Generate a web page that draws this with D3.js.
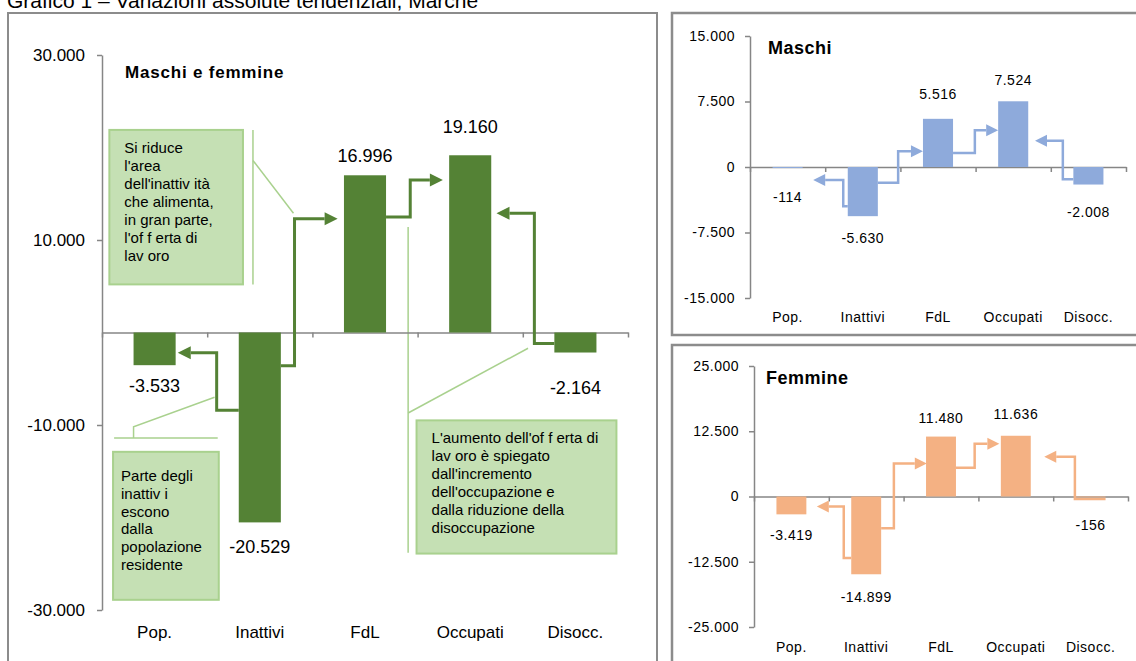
<!DOCTYPE html>
<html>
<head>
<meta charset="utf-8">
<script src="https://cdn.jsdelivr.net/npm/d3@7/dist/d3.min.js"></script>
<style>
body { margin: 0; background: #fff; }
svg { display: block; font-family: "Liberation Sans", Arial, sans-serif; }
.axis path, .axis line { stroke: #868686; stroke-width: 1.5; }
.axis text { fill: #000; }
.cat .domain { display: none; }
</style>
</head>
<body>
<div id="chart"></div>
<script>

var categories = ["Pop.", "Inattivi", "FdL", "Occupati", "Disocc."];
var valoriTotale = [-3533, -20529, 16996, 19160, -2164];
var valoriMaschi = [-114, -5630, 5516, 7524, -2008];
var valoriFemmine = [-3419, -14899, 11480, 11636, -156];

var tickTotale = [-30000, -10000, 10000, 30000];
var tickMaschi = [-15000, -7500, 0, 7500, 15000];
var tickFemmine = [-25000, -12500, 0, 12500, 25000];

// frecce: [posizione categoria, valore]
var frecceTotale = [
  [[0.8, -8400], [0.59, -8400], [0.59, -2200], [0.22, -2200]],
  [[1.2, -3600], [1.33, -3600], [1.33, 12300], [1.74, 12300]],
  [[2.2, 12500], [2.43, 12500], [2.43, 16500], [2.74, 16500]],
  [[3.8, -1200], [3.61, -1200], [3.61, 12900], [3.25, 12900]]
];
var frecceMaschi = [
  [[0.8, -4500], [0.74, -4500], [0.74, -1500], [0.34, -1500]],
  [[1.2, -1800], [1.47, -1800], [1.47, 1800], [1.80, 1800]],
  [[2.2, 1600], [2.49, 1600], [2.49, 4200], [2.80, 4200]],
  [[3.8, -1400], [3.66, -1400], [3.66, 3000], [3.29, 3000]]
];
var frecceFemmine = [
  [[0.8, -11800], [0.70, -11800], [0.70, -1900], [0.34, -1900]],
  [[1.2, -6100], [1.37, -6100], [1.37, 6300], [1.81, 6300]],
  [[2.2, 5500], [2.45, 5500], [2.45, 10100], [2.78, 10100]],
  [[4.2, -500], [3.79, -500], [3.79, 7600], [3.38, 7600]]
];

var nota1 = ["Si riduce", "l'area", "dell'inattiv ità", "che alimenta,", "in gran parte,", "l'of f erta di", "lav oro"];
var nota2 = ["Parte degli", "inattiv i", "escono", "dalla", "popolazione", "residente"];
var nota3 = ["L'aumento dell'of f erta di", "lav oro è spiegato", "dall'incremento", "dell'occupazione  e", "dalla riduzione  della", "disoccupazione"];

var width = 1136, height = 661;
var it = d3.formatLocale({decimal: ",", thousands: ".", grouping: [3], currency: ["", "€"], minus: "-"});
var fmt = it.format(",d");

var svg = d3.select("#chart").append("svg")
    .attr("width", width).attr("height", height);

svg.append("text")
    .attr("x", 7).attr("y", 8)
    .attr("font-size", 21)
    .text("Grafico 1 – Variazioni assolute tendenziali, Marche");

// cornici
svg.append("rect").attr("x", 8).attr("y", 13).attr("width", 649).attr("height", 700)
    .attr("fill", "none").attr("stroke", "#8c8c8c").attr("stroke-width", 2);
svg.append("rect").attr("x", 672).attr("y", 13).attr("width", 500).attr("height", 322)
    .attr("fill", "none").attr("stroke", "#8c8c8c").attr("stroke-width", 2.5);
svg.append("rect").attr("x", 672).attr("y", 345).attr("width", 500).attr("height", 400)
    .attr("fill", "none").attr("stroke", "#8c8c8c").attr("stroke-width", 2.5);

function drawPanel(o) {
    var g = svg.append("g");

    var x = d3.scaleBand().domain(categories)
        .range([o.left, o.right]).paddingInner(0.6).paddingOuter(0.3);
    var xi = d3.scaleLinear().domain([-0.5, categories.length - 0.5]).range([o.left, o.right]);
    var y = d3.scaleLinear().domain(o.domain).range([o.bottom, o.top]);

    // note (solo pannello principale)
    (o.notes || []).forEach(function(n) {
        g.append("rect")
            .attr("x", xi(n.box[0])).attr("y", y(n.box[2]))
            .attr("width", xi(n.box[1]) - xi(n.box[0]))
            .attr("height", y(n.box[3]) - y(n.box[2]))
            .attr("fill", "#c5e0b4").attr("stroke", "#a9d18e").attr("stroke-width", 2);
        n.lines.forEach(function(l) {
            g.append("path")
                .attr("d", d3.line().x(p => xi(p[0])).y(p => y(p[1]))(l))
                .attr("fill", "none").attr("stroke", "#a9d18e").attr("stroke-width", 1.5);
        });
        g.selectAll(null).data(n.text).enter().append("text")
            .attr("x", xi(n.box[0]) + n.padX)
            .attr("y", (d, i) => y(n.box[2]) + n.padY + i * n.lh)
            .attr("dy", "0.35em")
            .attr("font-size", 15)
            .text(d => d);
    });

    // asse y
    g.append("g").attr("class", "axis")
        .attr("transform", `translate(${o.left},0)`)
        .call(d3.axisLeft(y).tickValues(o.ticks).tickFormat(fmt)
            .tickSize(5).tickSizeOuter(0).tickPadding(o.tickPad))
        .call(a => a.selectAll("text").attr("font-size", o.fs).attr("font-family", "Liberation Sans, Arial")
            .attr("letter-spacing", o.ls));

    // linea dello zero con tacche tra le categorie
    g.append("g").attr("class", "axis")
        .attr("transform", `translate(0,${y(0)})`)
        .call(d3.axisBottom(xi).tickValues(d3.range(-0.5, categories.length, 1))
            .tickFormat("").tickSize(5).tickSizeOuter(0));

    // etichette categorie
    g.append("g").attr("class", "axis cat")
        .attr("transform", `translate(0,${o.catY})`)
        .call(d3.axisBottom(x).tickSize(0).tickPadding(0))
        .call(a => a.selectAll("text").attr("font-size", o.fs).attr("dy", "0.35em")
            .attr("font-family", "Liberation Sans, Arial").attr("letter-spacing", o.ls));

    // barre
    g.selectAll(".bar").data(o.values).enter().append("rect")
        .attr("fill", o.color)
        .attr("x", (d, i) => x(categories[i]))
        .attr("y", d => y(Math.max(0, d)))
        .attr("width", x.bandwidth())
        .attr("height", d => Math.abs(y(d) - y(0)));

    // frecce
    o.arrows.forEach(function(pts) {
        var p = pts.map(d => [xi(d[0]), y(d[1])]);
        var a = p[p.length - 2], b = p[p.length - 1];
        var dx = b[0] - a[0], dy = b[1] - a[1], len = Math.hypot(dx, dy);
        var ux = dx / len, uy = dy / len;
        var base = [b[0] - ux * o.head, b[1] - uy * o.head];
        var line = p.slice(0, -1).concat([base]);
        g.append("path")
            .attr("d", d3.line()(line))
            .attr("fill", "none").attr("stroke", o.color)
            .attr("stroke-width", o.sw).attr("stroke-linejoin", "miter");
        var hw = o.head * 0.5;
        g.append("path")
            .attr("d", d3.line()([b,
                [base[0] - uy * hw, base[1] + ux * hw],
                [base[0] + uy * hw, base[1] - ux * hw]]) + "Z")
            .attr("fill", o.color);
    });

    // etichette valori
    g.selectAll(".lab").data(o.values).enter().append("text")
        .attr("x", (d, i) => x(categories[i]) + x.bandwidth() / 2)
        .attr("y", (d, i) => y(d) + (d < 0 ? o.labOff[i] : -o.labOff[i]))
        .attr("dy", "0.35em")
        .attr("text-anchor", "middle")
        .attr("font-size", o.labFs)
        .attr("letter-spacing", o.ls)
        .text(d => fmt(d));

    g.append("text")
        .attr("x", o.titleX).attr("y", o.titleY)
        .attr("font-size", o.titleFs).attr("font-weight", "bold")
        .attr("letter-spacing", o.titleLs)
        .text(o.title);
}

drawPanel({
    values: valoriTotale, ticks: tickTotale, domain: [-30000, 30000],
    left: 102, right: 628, top: 55, bottom: 610, catY: 632,
    color: "#548235", arrows: frecceTotale, sw: 3, head: 13,
    fs: 17, labFs: 18, ls: 0, tickPad: 12,
    labOff: [21, 24, 20, 29, 35],
    title: "Maschi e femmine", titleX: 125, titleY: 78, titleFs: 17, titleLs: 0.8,
    notes: [
        {box: [-0.43, 0.84, 21900, 5200], text: nota1, padX: 15, padY: 18, lh: 18,
         lines: [[[0.935, 21900], [0.935, 5200]], [[0.935, 18600], [1.32, 12900]]]},
        {box: [-0.395, 0.61, -12900, -28900], text: nota2, padX: 8, padY: 24, lh: 17.8,
         lines: [[[-0.385, -11400], [0.6, -11400]], [[-0.2, -11400], [-0.2, -10200], [0.57, -7000]]]},
        {box: [2.49, 4.39, -9500, -23900], text: nota3, padX: 15, padY: 17, lh: 18,
         lines: [[[2.41, 11400], [2.41, -23800]], [[2.41, -8700], [3.55, -1700]]]}
    ]
});

drawPanel({
    values: valoriMaschi, ticks: tickMaschi, domain: [-15000, 15000],
    left: 750, right: 1126, top: 36, bottom: 298, catY: 317,
    color: "#8eaadb", arrows: frecceMaschi, sw: 2.5, head: 12,
    fs: 14, labFs: 14, ls: 0.5, tickPad: 10,
    labOff: [29, 22, 25, 21, 28],
    title: "Maschi", titleX: 768, titleY: 54, titleFs: 18, titleLs: 0.5
});

drawPanel({
    values: valoriFemmine, ticks: tickFemmine, domain: [-25000, 25000],
    left: 754, right: 1128, top: 366, bottom: 627, catY: 647,
    color: "#f4b183", arrows: frecceFemmine, sw: 2.5, head: 12,
    fs: 14, labFs: 14, ls: 0.5, tickPad: 10,
    labOff: [21, 23, 18, 22, 28],
    title: "Femmine", titleX: 766, titleY: 384, titleFs: 18, titleLs: 0.5
});

</script>
</body>
</html>
